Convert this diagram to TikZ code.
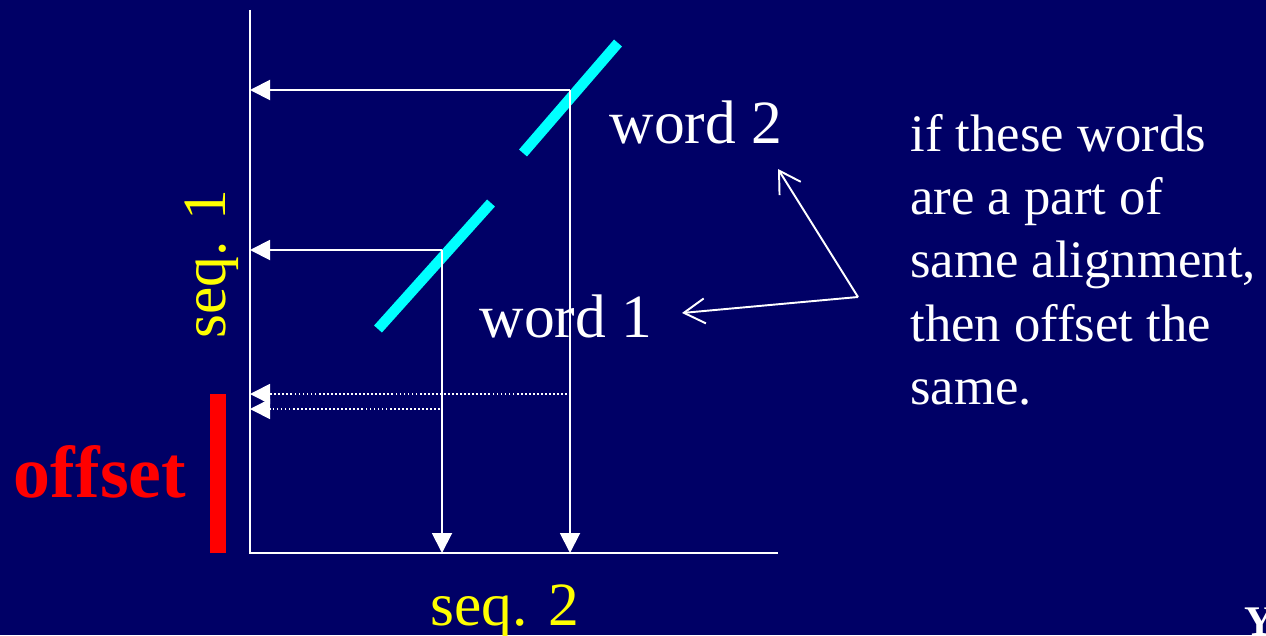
\documentclass[tikz,border=0pt]{standalone}
\usepackage{fontspec}
\setmainfont{Liberation Serif}
\usetikzlibrary{arrows.meta}
\definecolor{slidebg}{RGB}{0,0,102}
\definecolor{seqyellow}{RGB}{255,255,0}
\definecolor{matchcyan}{RGB}{0,255,255}
\definecolor{offsetred}{RGB}{255,0,0}

\begin{document}
\begin{tikzpicture}[x=0.02cm, y=-0.02cm,
  axis/.style={white, line width=1.1pt},
  pointer/.style={white, line width=1.1pt, -{Triangle[length=0.4cm, width=0.4cm]}},
  dotpointer/.style={pointer, line width=1pt, dash pattern=on 1pt off 1.3pt},
  callout/.style={white, line width=1.1pt, -{Straight Barb[length=0.42cm, width=0.5cm]}},
  match/.style={matchcyan, line width=6pt},
  big/.style={font=\fontsize{35}{42}\selectfont}]
  \useasboundingbox (0,0) rectangle (1266,635);
  \clip (0,0) rectangle (1266,635);
  \fill[slidebg] (0,0) rectangle (1266,635);

  % axes
  \coordinate (O) at (250,553);
  \coordinate (ytop) at (250,10);
  \coordinate (xend) at (778,553);
  \draw[axis] (ytop) -- (O) -- (xend);

  % word hits
  \draw[match] (378,329) -- (491,203);
  \draw[match] (523,153) -- (618,43);
  \coordinate (w1) at (442,250);
  \coordinate (w2) at (570,90);
  \draw[pointer] (w1) -- (w1 -| O);
  \draw[pointer] (w1) -- (w1 |- O);
  \draw[pointer] (w2) -- (w2 -| O);
  \draw[pointer] (w2) -- (w2 |- O);

  % offset projections
  \coordinate (d2) at (567,394);
  \coordinate (d1) at (440,409);
  \draw[dotpointer] (d2) -- (d2 -| O);
  \draw[dotpointer] (d1) -- (d1 -| O);
  \fill[offsetred] (210,394) rectangle (226,553);

  \node[big, white, anchor=base] (word2) at (696,143) {word 2};
  \node[big, white, anchor=base] (word1) at (566,337) {word 1};
  \node[big, seqyellow, anchor=base, rotate=90] (seq1) at (225,264) {seq. 1};
  \node[big, seqyellow, anchor=base] (seq2) at (505,625) {seq. 2};
  \node[offsetred, anchor=base, font=\fontsize{42}{48}\selectfont\bfseries] (offset) at (100,497) {offset};

  \node[white, anchor=north west, inner sep=0, align=left,
        font=\fontsize{30}{36}\selectfont] (note) at (910,114)
        {if these words\\are a part of\\same alignment,\\then offset the\\same.};
  \coordinate (fork) at (858,297);
  \coordinate (tip2) at (778,169);
  \coordinate (tip1) at (682,313);
  \draw[callout] (fork) -- (tip2);
  \draw[callout] (fork) -- (tip1);

  \node[white, anchor=north west, inner sep=0, font=\fontsize{24}{28}\selectfont\bfseries] (corner) at (1244,608) {Y};
\end{tikzpicture}
\end{document}
